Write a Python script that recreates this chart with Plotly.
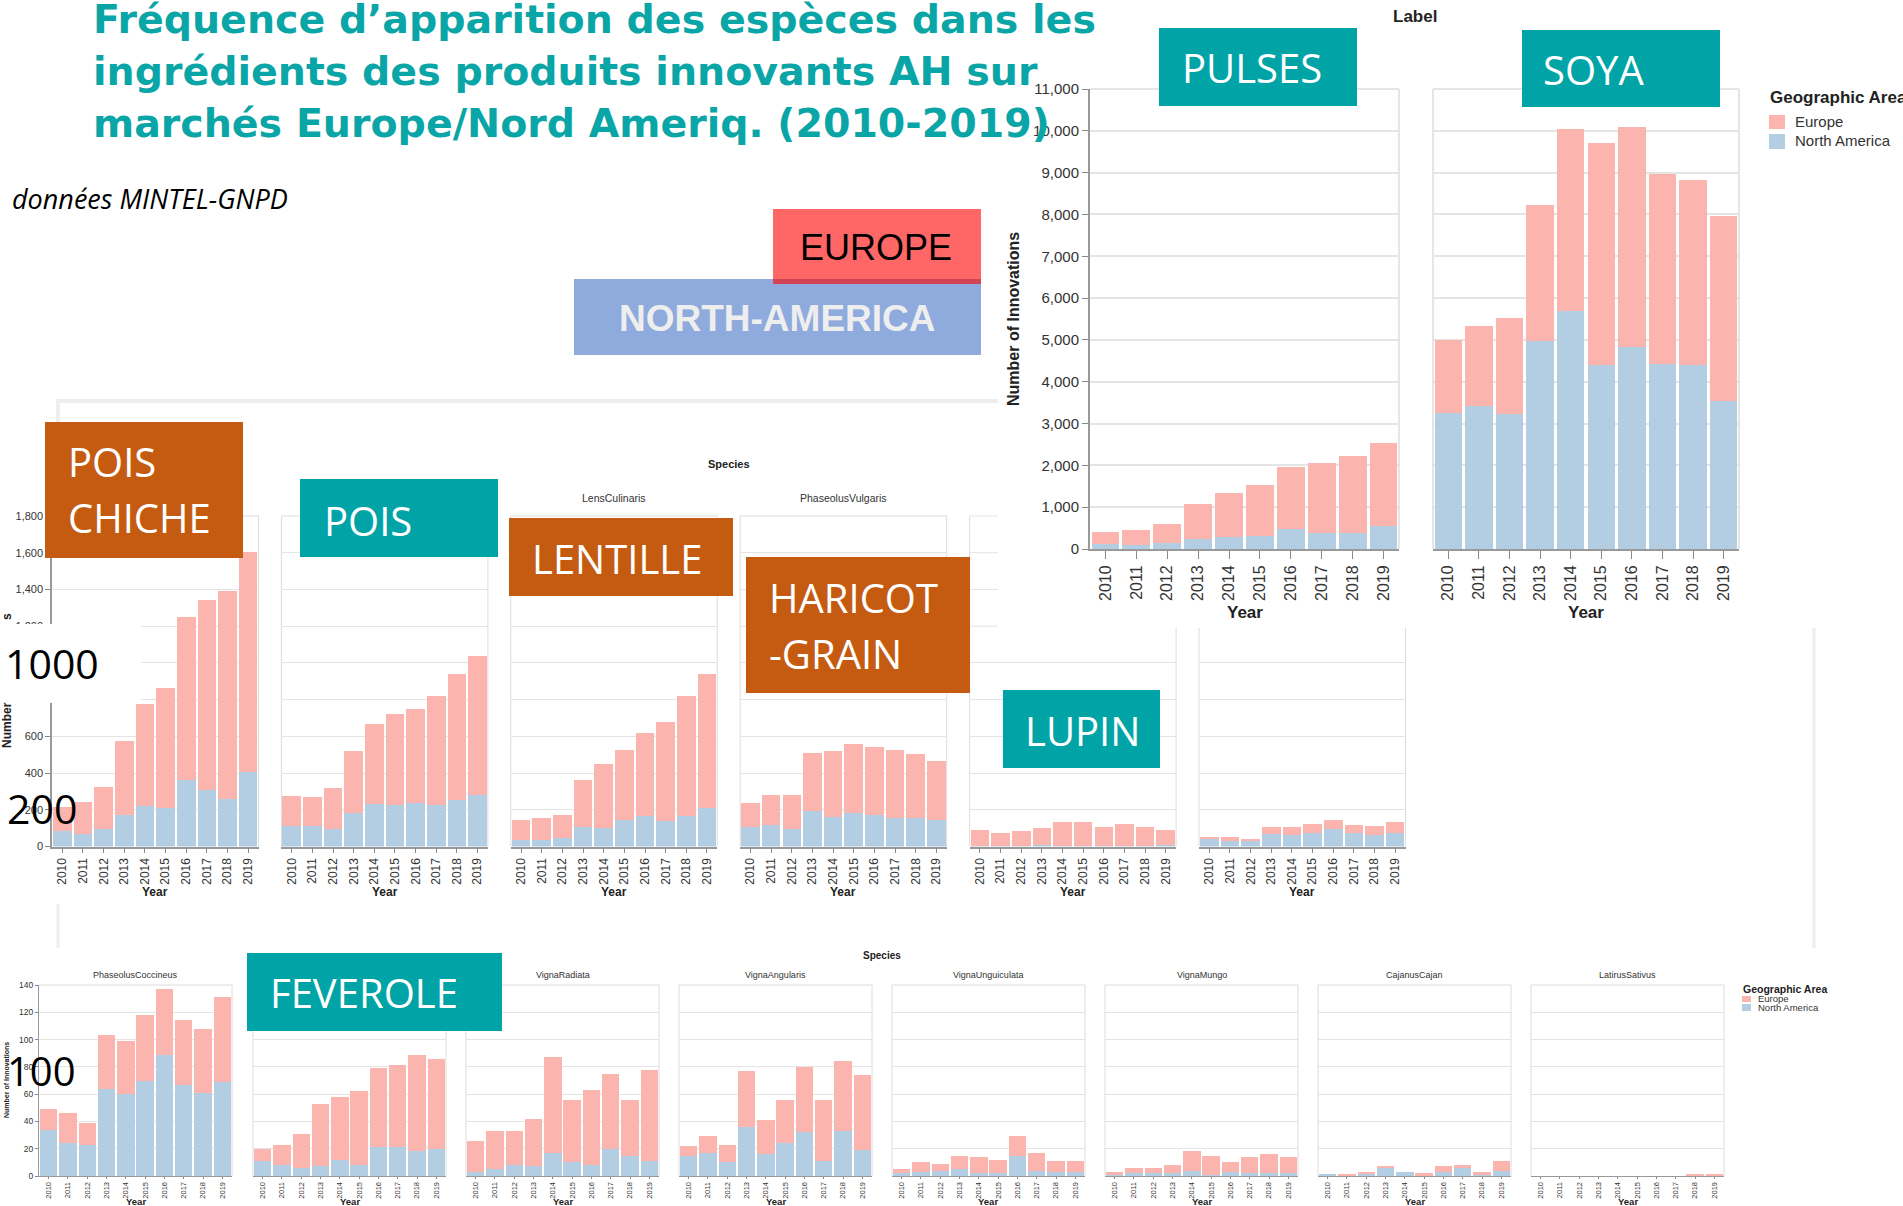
import plotly.graph_objects as go

W, H = 1903, 1206

# ---------------- data ----------------
years = [str(y) for y in range(2010, 2020)]

# top row ("Label")
pulses_na = [125, 105, 135, 240, 280, 315, 490, 380, 390, 550]
pulses_eu = [290, 355, 455, 825, 1070, 1220, 1465, 1670, 1845, 1990]
soya_na = [3260, 3410, 3220, 4980, 5680, 4410, 4840, 4430, 4410, 3530]
soya_eu = [1740, 1920, 2300, 3250, 4360, 5290, 5240, 4540, 4410, 4440]

# middle row ("Species")
cicer_na = [87, 69, 98, 173, 222, 211, 364, 309, 258, 407]
cicer_eu = [128, 176, 226, 402, 556, 654, 885, 1031, 1135, 1197]
pisum_na = [111, 113, 95, 182, 233, 227, 238, 225, 251, 282]
pisum_eu = [165, 156, 223, 336, 432, 495, 509, 593, 687, 756]
lens_na = [36, 33, 47, 104, 100, 145, 167, 138, 164, 207]
lens_eu = [109, 120, 126, 258, 347, 382, 451, 542, 658, 733]
vulgaris_na = [104, 115, 96, 195, 160, 182, 169, 155, 155, 142]
vulgaris_eu = [131, 165, 184, 312, 362, 376, 375, 372, 347, 325]
lupinus_na = [3, 2, 3, 8, 3, 3, 3, 3, 4, 8]
lupinus_eu = [88, 71, 81, 94, 132, 128, 104, 119, 101, 81]
sixth_na = [40, 31, 29, 69, 64, 76, 95, 73, 65, 73]
sixth_eu = [13, 20, 13, 38, 40, 48, 49, 45, 48, 63]

# bottom row ("Species")
coccineus_na = [34, 24, 23, 64, 60, 70, 89, 67, 61, 69]
coccineus_eu = [15, 22, 16, 39, 39, 48, 48, 47, 47, 62]
faba_na = [11, 8, 6, 7, 12, 8, 21, 21, 18, 20]
faba_eu = [9, 15, 25, 46, 46, 54, 58, 60, 71, 66]
radiata_na = [3, 5, 8, 7, 17, 10, 8, 20, 15, 11]
radiata_eu = [23, 28, 25, 35, 70, 46, 55, 55, 41, 67]
angularis_na = [15, 17, 10, 36, 16, 24, 32, 11, 33, 19]
angularis_eu = [7, 12, 13, 41, 25, 32, 48, 45, 51, 55]
unguiculata_na = [2, 3, 4, 5, 2, 2, 15, 4, 3, 3]
unguiculata_eu = [3, 7, 5, 10, 12, 10, 14, 13, 8, 8]
mungo_na = [1, 2, 2, 2, 4, 1, 3, 2, 2, 2]
mungo_eu = [2, 4, 4, 6, 14, 14, 7, 12, 14, 12]
cajan_na = [1, 0, 2, 6, 3, 0, 3, 6, 1, 4]
cajan_eu = [0, 1, 1, 1, 0, 2, 4, 2, 2, 7]
sativus_na = [0, 0, 0, 0, 0, 0, 0, 0, 0, 0]
sativus_eu = [0, 0, 0, 0, 0, 0, 0, 0, 1, 1]

bottom_titles = ["PhaseolusCoccineus", "", "VignaRadiata", "VignaAngularis",
                 "VignaUnguiculata", "VignaMungo", "CajanusCajan", "LatirusSativus"]

PINK = "#fbb4ae"
BLUE = "#b3cde3"
TEAL = "#00a4a6"
ORANGE = "#c55a11"
FONT = "Liberation Sans"

fig = go.Figure()
layout = {}
shapes = []
annotations = []


def X(p):
    return p / W


def Y(p):
    return 1 - p / H


def line(x0, y0, x1, y1, color="#dcdcdc", width=1, layer="below"):
    shapes.append(dict(type="line", xref="paper", yref="paper", x0=X(x0), y0=Y(y0),
                       x1=X(x1), y1=Y(y1), line=dict(color=color, width=width), layer=layer))


def rect(x0, y0, x1, y1, color, layer="above"):
    shapes.append(dict(type="rect", xref="paper", yref="paper", x0=X(x0), y0=Y(y0),
                       x1=X(x1), y1=Y(y1), fillcolor=color, line=dict(width=0), layer=layer))


def txt(x, y, text, size, color="#333", family=FONT, xanchor="center", yanchor="middle",
        angle=0, weight="normal", style="normal"):
    annotations.append(dict(x=X(x), y=Y(y), xref="paper", yref="paper", text=text,
                            showarrow=False, xanchor=xanchor, yanchor=yanchor, textangle=angle,
                            font=dict(size=size, color=color, family=family, weight=weight,
                                      style=style)))


idx = [0]


def chart(na, eu, x0, x1, yt, yb, ymax, dtick, first, sty, frame_top=True):
    idx[0] += 1
    i = idx[0]
    xa = "x" if i == 1 else f"x{i}"
    ya = "y" if i == 1 else f"y{i}"
    fig.add_bar(x=years, y=na, marker=dict(color=BLUE, line=dict(width=0)), xaxis=xa, yaxis=ya,
                name="North America")
    fig.add_bar(x=years, y=eu, marker=dict(color=PINK, line=dict(width=0)), xaxis=xa, yaxis=ya,
                name="Europe")
    layout["xaxis" if i == 1 else f"xaxis{i}"] = dict(
        domain=[X(x0), X(x1)], anchor=ya, type="category", tickangle=-90,
        ticks="outside", ticklen=sty["xtl"], tickcolor="#888", tickwidth=1,
        showline=True, linecolor="#999", linewidth=sty["lw"], showgrid=False,
        automargin=False,
        tickfont=dict(size=sty["xfs"], color="#333", family=FONT), fixedrange=True)
    layout["yaxis" if i == 1 else f"yaxis{i}"] = dict(
        domain=[Y(yb), Y(yt)], anchor=xa, range=[0, ymax], dtick=dtick, tick0=0,
        showgrid=True, gridcolor="#e4e4e4", gridwidth=sty["gw"], zeroline=False,
        showline=first, linecolor="#999", linewidth=sty["lw"],
        ticks="outside" if first else "", ticklen=sty["ytl"], tickcolor="#888",
        showticklabels=first, tickformat=",d", automargin=False,
        tickfont=dict(size=sty["yfs"], color="#333", family=FONT), fixedrange=True)
    # light frame
    if not first:
        line(x0, yt, x0, yb, width=sty["gw"])
    line(x1, yt, x1, yb, width=sty["gw"])
    if frame_top:
        line(x0, yt, x1, yt, width=sty["gw"])
    txt((x0 + x1) / 2, sty["yeary"], "Year", sty["yearfs"], color="#222", weight="bold")


top_sty = dict(xtl=8, ytl=6, lw=2, gw=1.5, xfs=16, yfs=15, yeary=612, yearfs=17)
mid_sty = dict(xtl=5, ytl=5, lw=1.5, gw=1, xfs=12, yfs=11, yeary=892, yearfs=12)
bot_sty = dict(xtl=2, ytl=3, lw=1, gw=1, xfs=7.5, yfs=8.5, yeary=1201, yearfs=9.5)

# top row
chart(pulses_na, pulses_eu, 1090, 1399, 89, 549, 11000, 1000, True, top_sty)
chart(soya_na, soya_eu, 1433, 1739, 89, 549, 11000, 1000, False, top_sty)

# middle row
mid_x = [52, 281.4, 510.8, 740.2, 969.6, 1199]
mid_w = 206.5
MT, MB = 516, 846.5
mid_series = [(cicer_na, cicer_eu), (pisum_na, pisum_eu), (lens_na, lens_eu),
              (vulgaris_na, vulgaris_eu), (lupinus_na, lupinus_eu), (sixth_na, sixth_eu)]
for k, (na, eu) in enumerate(mid_series):
    if k < 4:
        chart(na, eu, mid_x[k], mid_x[k] + mid_w, MT, MB, 1800, 200, k == 0, mid_sty)
    else:
        cut = 628
        ymax = 1800 * (MB - cut) / (MB - MT)
        chart(na, eu, mid_x[k], mid_x[k] + mid_w, cut, MB, ymax, 200, False, mid_sty,
              frame_top=False)
# stubs of the lupin panel left of the overlay
lx = mid_x[4]
line(lx, MT, lx, 628)
for v in (1800, 1600, 1400, 1200):
    yy = MB - v / 1800 * (MB - MT)
    line(lx, yy, 998, yy, color="#e4e4e4")

# bottom row
bot_x = [39, 253, 466, 679, 892, 1105, 1318, 1531]
bot_w = 193
BT, BB = 985, 1176
bot_series = [(coccineus_na, coccineus_eu), (faba_na, faba_eu), (radiata_na, radiata_eu),
              (angularis_na, angularis_eu), (unguiculata_na, unguiculata_eu),
              (mungo_na, mungo_eu), (cajan_na, cajan_eu), (sativus_na, sativus_eu)]
for k, (na, eu) in enumerate(bot_series):
    chart(na, eu, bot_x[k], bot_x[k] + bot_w, BT, BB, 140, 20, k == 0, bot_sty)
    if bottom_titles[k]:
        txt(bot_x[k] + bot_w / 2, 975, bottom_titles[k], 9, color="#333")

# ---------------- decorations ----------------
# grey frame pieces of the pasted screenshots
line(58, 401, 998, 401, color="#eeeeee", width=4, layer="above")
line(58, 399, 58, 424, color="#eeeeee", width=4, layer="above")
line(58, 904, 58, 948, color="#eeeeee", width=3, layer="above")
line(1814, 628, 1814, 948, color="#eeeeee", width=3, layer="above")

# top row texts
txt(1415, 16, "Label", 17, color="#222", weight="bold")
txt(1014, 319, "Number of Innovations", 16, color="#222", weight="bold", angle=-90)
txt(1768, 97, "Geographic Area", 17, color="#222", weight="bold", xanchor="left")
rect(1769, 115, 1785, 129, PINK)
rect(1769, 134, 1785, 149, BLUE)
txt(1793, 122, "Europe", 15, color="#333", xanchor="left")
txt(1793, 141, "North America", 15, color="#333", xanchor="left")

# middle row texts
txt(729, 464, "Species", 11, color="#222", weight="bold")
txt(614, 498, "LensCulinaris", 10.5, color="#333")
txt(843, 498, "PhaseolusVulgaris", 10.5, color="#333")
# axis title partly hidden by the white patch: only its ends remain visible
txt(7, 725, "Number", 12, color="#222", weight="bold", angle=-90)
txt(7, 617, "s", 12, color="#222", weight="bold", angle=-90)

# bottom row texts
txt(882, 955, "Species", 10, color="#222", weight="bold")
txt(6, 1080, "Number of Innovations", 7, color="#222", weight="bold", angle=-90)
txt(1741, 989, "Geographic Area", 10.5, color="#222", weight="bold", xanchor="left")
rect(1742, 996, 1751, 1002, PINK)
rect(1742, 1004, 1751, 1011, BLUE)
txt(1756, 999, "Europe", 9.5, color="#333", xanchor="left")
txt(1756, 1007, "North America", 9.5, color="#333", xanchor="left")

# white patch + big numbers over the chickpea axis
rect(0, 624, 141, 703, "white")
txt(52, 663, "1000", 41, color="black", family="Open Sans")
txt(42, 808, "200", 41, color="black", family="Open Sans")
txt(41, 1070, "100", 40, color="black", family="Open Sans")

# title
TT = "#0aa5a6"
txt(91, 19, "Fréquence d’apparition des espèces dans les", 39.5, color=TT,
    family="DejaVu Sans", weight="bold", xanchor="left")
txt(91, 71, "ingrédients des produits innovants AH sur", 39.5, color=TT,
    family="DejaVu Sans", weight="bold", xanchor="left")
txt(91, 123, "marchés Europe/Nord Ameriq. (2010-2019)", 39.5, color=TT,
    family="DejaVu Sans", weight="bold", xanchor="left")
txt(10, 198, "données MINTEL-GNPD", 27, color="black", family="Open Sans",
    xanchor="left", style="italic")

# region labels
rect(574, 279, 981, 355, "#8faadc")
rect(773, 209, 981, 284, "#ff6666")
rect(773, 279, 981, 284, "#d24455")
txt(876, 248, "EUROPE", 36, color="black")
txt(777, 318, "NORTH-AMERICA", 37, color="#eeeeee", weight="bold")

# species boxes
boxes = [
    (1159, 28, 1357, 106, TEAL, [("PULSES", 1180, 68)]),
    (1522, 30, 1720, 107, TEAL, [("SOYA", 1541, 69)]),
    (45, 422, 243, 558, ORANGE, [("POIS", 66, 462), ("CHICHE", 66, 518)]),
    (300, 479, 498, 557, TEAL, [("POIS", 322, 520)]),
    (509, 518, 733, 596, ORANGE, [("LENTILLE", 530, 558)]),
    (746, 557, 970, 693, ORANGE, [("HARICOT", 767, 597), ("-GRAIN", 767, 653)]),
    (1003, 690, 1160, 768, TEAL, [("LUPIN", 1023, 730)]),
    (247, 953, 502, 1031, TEAL, [("FEVEROLE", 268, 992)]),
]
for x0, y0, x1, y1, col, labels in boxes:
    rect(x0, y0, x1, y1, col)
    for t, tx, ty in labels:
        txt(tx, ty, t, 40, color="white", family="Open Sans", xanchor="left")

fig.update_layout(**layout)
fig.update_layout(
    width=W, height=H, margin=dict(l=0, r=0, t=0, b=0, pad=0, autoexpand=False),
    barmode="stack", bargap=0.1, showlegend=False,
    paper_bgcolor="white", plot_bgcolor="rgba(0,0,0,0)",
    shapes=shapes, annotations=annotations,
)

fig.write_html("out.html", config={"displayModeBar": False},
               post_script="document.body.style.margin='0';document.body.style.overflow='hidden';")
